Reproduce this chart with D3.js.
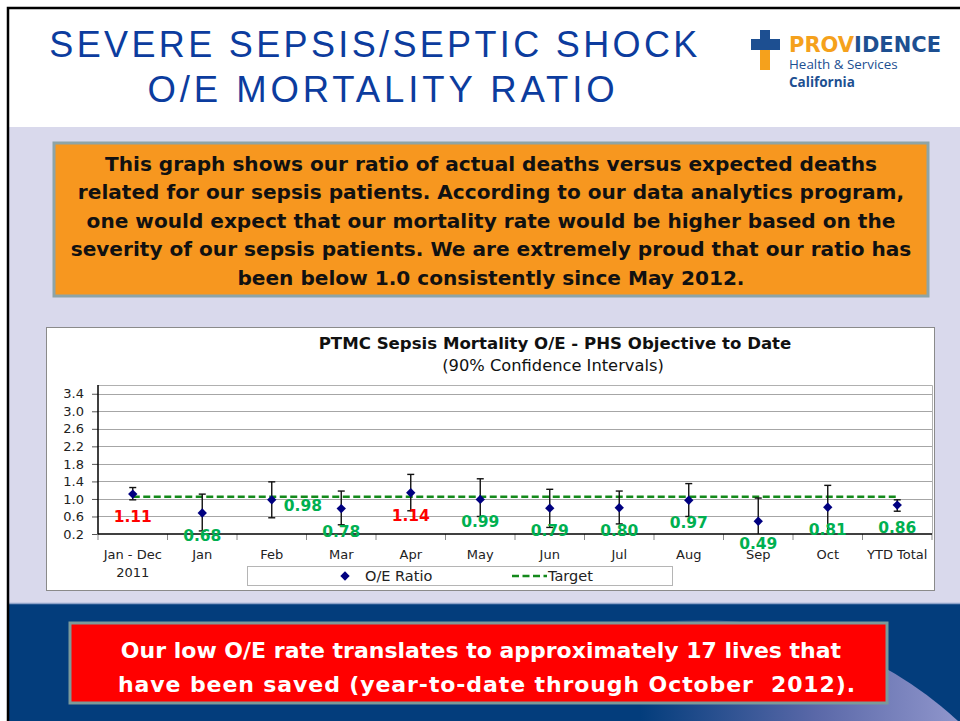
<!DOCTYPE html>
<html>
<head>
<meta charset="utf-8">
<script src="https://cdn.jsdelivr.net/npm/d3@7/dist/d3.min.js"></script>
<style>
	body { margin: 0; background: #fff; }
	svg { display: block; }
</style>
</head>
<body>
<div id="slide"></div>
<script>
// chart data
const categories = ["Jan - Dec\n2011", "Jan", "Feb", "Mar", "Apr", "May", "Jun", "Jul", "Aug", "Sep", "Oct", "YTD Total"];
const oeRatio = [1.11, 0.68, 0.98, 0.78, 1.14, 0.99, 0.79, 0.80, 0.97, 0.49, 0.81, 0.86];
const ciLower = [0.98, 0.27, 0.57, 0.41, 0.73, 0.60, 0.35, 0.43, 0.60, 0.05, 0.15, 0.72];
const ciUpper = [1.26, 1.11, 1.39, 1.18, 1.56, 1.46, 1.22, 1.18, 1.35, 1.02, 1.31, 0.98];
const target = [1.05, 1.05, 1.05, 1.05, 1.05, 1.05, 1.05, 1.05, 1.05, 1.05, 1.05, 1.05];
const yTicks = [0.2, 0.6, 1.0, 1.4, 1.8, 2.2, 2.6, 3.0, 3.4];

// slide texts
const titleLines = ["SEVERE SEPSIS/SEPTIC SHOCK", "O/E MORTALITY RATIO"];
const introLines = [
	"This graph shows our ratio of actual deaths versus expected deaths",
	"related for our sepsis patients. According to our data analytics program,",
	"one would expect that our mortality rate would be higher based on the",
	"severity of our sepsis patients. We are extremely proud that our ratio has",
	"been below 1.0 consistently since May 2012."
];
const footLines = [
	"Our low O/E rate translates to approximately 17 lives that",
	"have been saved (year-to-date through October  2012)."
];
const chartTitle = "PTMC Sepsis Mortality O/E - PHS Objective to Date";
const chartSubtitle = "(90% Confidence Intervals)";

const W = 960, H = 721;
const SANS = "'DejaVu Sans', Verdana, sans-serif";
const ARIAL = "'Liberation Sans', Arial, sans-serif";

const svg = d3.select("#slide")
	.append("svg")
	.attr("width", W)
	.attr("height", H)
	.attr("viewBox", `0 0 ${W} ${H}`);

svg.append("defs").html(`
	<linearGradient id="swoosh" x1="640" y1="0" x2="960" y2="0" gradientUnits="userSpaceOnUse">
		<stop offset="0" stop-color="#033d7c"/>
		<stop offset="0.55" stop-color="#5a68a8"/>
		<stop offset="1" stop-color="#9096cc"/>
	</linearGradient>
	<clipPath id="band-clip"><rect x="9" y="604" width="951" height="117"/></clipPath>
	<clipPath id="plot-clip"><rect x="98" y="385" width="834" height="149"/></clipPath>
`);

// ---- slide background
svg.append("rect").attr("width", W).attr("height", H).attr("fill", "#fff");
svg.append("rect").attr("x", 9).attr("y", 127).attr("width", W - 9).attr("height", 476).attr("fill", "#d9d9ec");
svg.append("rect").attr("x", 9).attr("y", 603).attr("width", W - 9).attr("height", H - 603).attr("fill", "#033d7c");
svg.append("circle")
	.attr("cx", 700).attr("cy", 1000).attr("r", 380)
	.attr("fill", "url(#swoosh)")
	.attr("clip-path", "url(#band-clip)");
svg.append("line").attr("x1", 9).attr("x2", W).attr("y1", 603.5).attr("y2", 603.5)
	.attr("stroke", "#8fa3c9").attr("stroke-width", 1.5);
svg.append("path").attr("d", `M8,${H} V8 H${W}`).attr("fill", "none")
	.attr("stroke", "#000").attr("stroke-width", 2.5);

// ---- slide title
svg.append("g")
	.selectAll("text")
	.data(titleLines)
	.join("text")
	.attr("x", (d, i) => i === 0 ? 375 : 383)
	.attr("y", (d, i) => 57 + i * 45)
	.attr("text-anchor", "middle")
	.attr("font-family", ARIAL)
	.attr("font-size", (d, i) => i === 0 ? 36 : 36.5)
	.attr("letter-spacing", (d, i) => i === 0 ? 3.35 : 3.9)
	.attr("fill", "#0c3c9e")
	.text(d => d);

// ---- logo
const logo = svg.append("g").attr("class", "logo");
logo.append("rect").attr("x", 760).attr("y", 30).attr("width", 10).attr("height", 12).attr("fill", "#1d4f91");
logo.append("rect").attr("x", 760).attr("y", 48).attr("width", 10).attr("height", 22).attr("fill", "#f5a11c");
logo.append("rect").attr("x", 751).attr("y", 39).attr("width", 29).attr("height", 11).attr("fill", "#1d4f91");
const brand = logo.append("text")
	.attr("x", 789).attr("y", 52)
	.attr("font-family", SANS).attr("font-weight", "bold").attr("font-size", 21);
brand.append("tspan").attr("fill", "#f5a11c").text("PROV");
brand.append("tspan").attr("fill", "#1d4f91").text("IDENCE");
logo.append("text").attr("x", 789).attr("y", 69)
	.attr("font-family", "'Open Sans', sans-serif").attr("font-size", 13.4)
	.attr("fill", "#1d4f91").text("Health & Services");
logo.append("text").attr("x", 789).attr("y", 87)
	.attr("font-family", "'Open Sans', sans-serif").attr("font-weight", "bold").attr("font-size", 13.5)
	.attr("fill", "#1d4f91").text("California");

// ---- orange intro box
svg.append("rect")
	.attr("x", 54).attr("y", 143).attr("width", 874).attr("height", 153)
	.attr("fill", "#f7971f").attr("stroke", "#8ea4a6").attr("stroke-width", 3);
svg.append("g")
	.selectAll("text")
	.data(introLines)
	.join("text")
	.attr("x", 491)
	.attr("y", (d, i) => 170.5 + i * 28.6)
	.attr("text-anchor", "middle")
	.attr("font-family", SANS).attr("font-weight", "bold").attr("font-size", 20.1)
	.attr("fill", "#111")
	.text(d => d);

// ---- chart box
const chart = svg.append("g").attr("class", "chart");
chart.append("rect")
	.attr("x", 46.5).attr("y", 327.5).attr("width", 888).attr("height", 263)
	.attr("fill", "#fff").attr("stroke", "#8a8a8a");

chart.append("text")
	.attr("x", 555).attr("y", 349)
	.attr("text-anchor", "middle")
	.attr("font-family", SANS).attr("font-weight", "bold").attr("font-size", 16.6)
	.attr("fill", "#111")
	.text(chartTitle);
chart.append("text")
	.attr("x", 553).attr("y", 371)
	.attr("text-anchor", "middle")
	.attr("font-family", SANS).attr("font-size", 16.3)
	.attr("fill", "#111")
	.text(chartSubtitle);

const plot = { left: 98, right: 932, top: 385, bottom: 534 };

const x = d3.scaleBand()
	.domain(categories)
	.range([plot.left, plot.right])
	.padding(0);
const y = d3.scaleLinear()
	.domain([0.2, 3.6])
	.range([plot.bottom, plot.top]);
const cx = c => x(c) + x.bandwidth() / 2;

// gridlines
chart.append("g")
	.selectAll("line")
	.data(yTicks.slice(1))
	.join("line")
	.attr("x1", plot.left).attr("x2", plot.right)
	.attr("y1", d => Math.round(y(d)) + 0.5).attr("y2", d => Math.round(y(d)) + 0.5)
	.attr("stroke", "#a6a6a6");
// plot area border (top / right)
chart.append("path")
	.attr("d", `M${plot.left},${plot.top + 0.5} H${plot.right + 0.5} V${plot.bottom}`)
	.attr("fill", "none").attr("stroke", "#b0b0b0");

// y axis
const yAxis = chart.append("g")
	.attr("transform", `translate(${plot.left},0)`)
	.call(d3.axisLeft(y).tickValues(yTicks).tickFormat(d3.format(".1f")).tickSize(6).tickPadding(8));
yAxis.select(".domain").remove();
yAxis.selectAll(".tick line").attr("stroke", "#555");
yAxis.selectAll(".tick text")
	.attr("font-family", SANS).attr("font-size", 13).attr("fill", "#222");
chart.append("line")
	.attr("x1", plot.left).attr("x2", plot.left)
	.attr("y1", plot.top).attr("y2", plot.bottom)
	.attr("stroke", "#000").attr("stroke-width", 1.5);

// x axis: ticks sit between categories
chart.append("g")
	.selectAll("line")
	.data(d3.range(categories.length + 1))
	.join("line")
	.attr("x1", i => plot.left + i * x.step()).attr("x2", i => plot.left + i * x.step())
	.attr("y1", plot.bottom).attr("y2", plot.bottom + 6)
	.attr("stroke", "#888");
chart.append("line")
	.attr("x1", plot.left).attr("x2", plot.right)
	.attr("y1", plot.bottom).attr("y2", plot.bottom)
	.attr("stroke", "#000").attr("stroke-width", 1.5);
chart.append("g")
	.selectAll("text")
	.data(categories)
	.join("text")
	.attr("x", d => cx(d))
	.attr("y", 559)
	.attr("text-anchor", "middle")
	.attr("font-family", SANS).attr("font-size", 13).attr("fill", "#222")
	.selectAll("tspan")
	.data(d => d.split("\n"))
	.join("tspan")
	.attr("x", function () { return d3.select(this.parentNode).attr("x"); })
	.attr("dy", (d, i) => i === 0 ? 0 : 18)
	.text(d => d);

// target line
chart.append("path")
	.datum(categories.map((c, i) => [cx(c), y(target[i])]))
	.attr("fill", "none")
	.attr("stroke", "#13891a")
	.attr("stroke-width", 2.5)
	.attr("stroke-dasharray", "7,3.5")
	.attr("d", d3.line());

// error bars (90% CI)
const bars = chart.append("g").attr("clip-path", "url(#plot-clip)")
	.selectAll("g")
	.data(categories)
	.join("g")
	.attr("stroke", "#111").attr("stroke-width", 1.4);
bars.append("line")
	.attr("x1", d => cx(d)).attr("x2", d => cx(d))
	.attr("y1", (d, i) => y(ciLower[i])).attr("y2", (d, i) => y(ciUpper[i]));
bars.append("line")
	.attr("x1", d => cx(d) - 3.5).attr("x2", d => cx(d) + 3.5)
	.attr("y1", (d, i) => y(ciUpper[i])).attr("y2", (d, i) => y(ciUpper[i]));
bars.append("line")
	.attr("x1", d => cx(d) - 3.5).attr("x2", d => cx(d) + 3.5)
	.attr("y1", (d, i) => y(ciLower[i])).attr("y2", (d, i) => y(ciLower[i]));

// O/E markers
const diamond = d3.symbol().type(d3.symbolSquare).size(44);
chart.append("g")
	.selectAll("path")
	.data(categories)
	.join("path")
	.attr("transform", (d, i) => `translate(${cx(d)},${y(oeRatio[i])}) rotate(45)`)
	.attr("d", diamond)
	.attr("fill", "#000080");

// data labels: below the marker, Feb's sits to the right
const RIGHT_LABELS = new Set(["Feb"]);
chart.append("g")
	.selectAll("text")
	.data(categories)
	.join("text")
	.attr("x", d => RIGHT_LABELS.has(d) ? cx(d) + 12 : cx(d))
	.attr("y", (d, i) => y(oeRatio[i]) + (RIGHT_LABELS.has(d) ? 11 : 28))
	.attr("text-anchor", d => RIGHT_LABELS.has(d) ? "start" : "middle")
	.attr("font-family", SANS).attr("font-weight", "bold").attr("font-size", 15.5)
	.attr("fill", (d, i) => oeRatio[i] > 1 ? "#ff0000" : "#00b050")
	.text((d, i) => oeRatio[i].toFixed(2));

// legend
const legend = chart.append("g").attr("class", "legend");
legend.append("rect")
	.attr("x", 247.5).attr("y", 566.5).attr("width", 425).attr("height", 19)
	.attr("fill", "#fff").attr("stroke", "#b5b5b5");
legend.append("path")
	.attr("transform", "translate(345,576) rotate(45)")
	.attr("d", diamond)
	.attr("fill", "#000080");
legend.append("text").attr("x", 365).attr("y", 581)
	.attr("font-family", SANS).attr("font-size", 14.5).attr("fill", "#222")
	.text("O/E Ratio");
legend.append("line")
	.attr("x1", 512).attr("x2", 547).attr("y1", 576).attr("y2", 576)
	.attr("stroke", "#13891a").attr("stroke-width", 2.5).attr("stroke-dasharray", "7,3.5");
legend.append("text").attr("x", 548).attr("y", 581)
	.attr("font-family", SANS).attr("font-size", 14.5).attr("fill", "#222")
	.text("Target");

// ---- red footer box
svg.append("rect")
	.attr("x", 70).attr("y", 623).attr("width", 817).attr("height", 80)
	.attr("fill", "#ff0000").attr("stroke", "#7c9a9a").attr("stroke-width", 3);
svg.append("g")
	.selectAll("text")
	.data(footLines)
	.join("text")
	.attr("x", (d, i) => i === 0 ? 481 : 487)
	.attr("y", (d, i) => 658 + i * 34)
	.attr("text-anchor", "middle")
	.attr("font-family", SANS).attr("font-weight", "bold").attr("font-size", 22)
	.attr("letter-spacing", (d, i) => i === 0 ? 0 : 0.9)
	.attr("style", "white-space: pre")
	.attr("fill", "#fff")
	.text(d => d);
</script>
</body>
</html>
